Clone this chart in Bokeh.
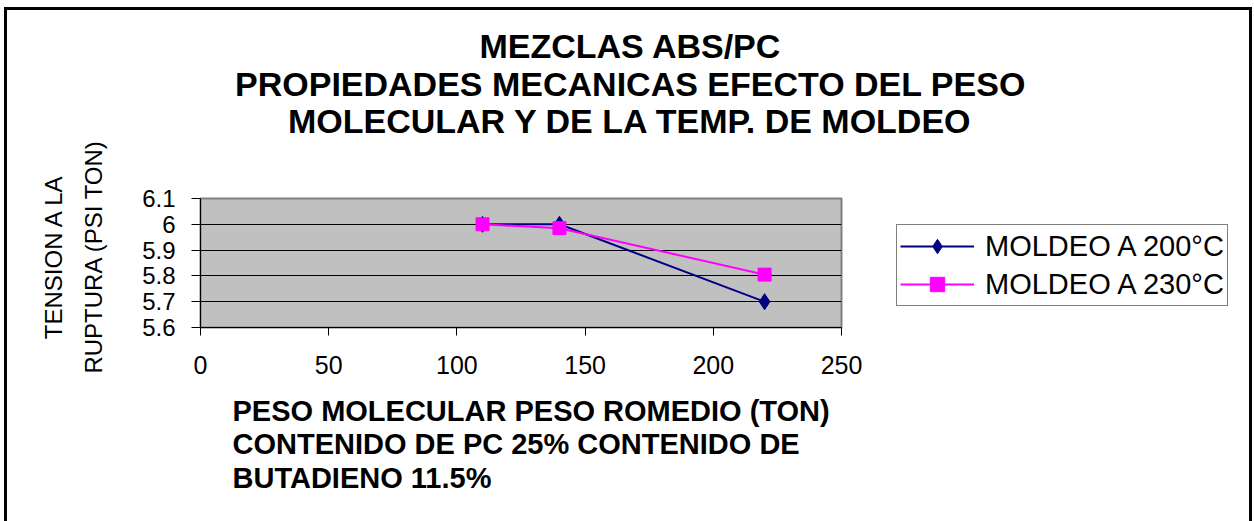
import math

from bokeh.embed import file_html
from bokeh.layouts import column, row
from bokeh.models import FixedTicker, Label, Legend, LegendItem, Range1d
from bokeh.plotting import figure
from bokeh.resources import INLINE

# ---- data -----------------------------------------------------------------
peso_molecular = [110, 140, 220]
tension_200 = [6.0, 6.0, 5.7]
tension_230 = [6.0, 5.985, 5.805]

x_ticks = [0, 50, 100, 150, 200, 250]
y_ticks = [5.6, 5.7, 5.8, 5.9, 6.0, 6.1]
y_tick_labels = ["5.6", "5.7", "5.8", "5.9", "6", "6.1"]

series = ["MOLDEO A 200°C", "MOLDEO A 230°C"]
titulo = ["MEZCLAS ABS/PC",
          "PROPIEDADES MECANICAS EFECTO DEL PESO",
          "MOLECULAR Y DE LA TEMP. DE MOLDEO"]
titulo_x = ["PESO MOLECULAR PESO ROMEDIO (TON)",
            "CONTENIDO DE PC 25% CONTENIDO DE",
            "BUTADIENO 11.5%"]
titulo_y = ["TENSION A LA", "RUPTURA (PSI TON)"]

FONT = "Liberation Sans"
NAVY = "#000080"
MAGENTA = "#ff00ff"

W, H = 1254, 521
TOP_H = 140          # height of the title strip
MAIN_W = 880         # width of the chart panel; the legend sits to its right
LOW_H = H - TOP_H
FRAME_B = 327        # page y of the bottom of the plot area


def blank_panel(width, height):
    """A figure without axes, used for free text and the legend."""
    f = figure(width=width, height=height, x_range=Range1d(0, 1),
               y_range=Range1d(0, 1), x_axis_type=None, y_axis_type=None,
               output_backend="svg", toolbar_location=None,
               min_border=0, min_border_left=0, min_border_right=0,
               min_border_top=0, min_border_bottom=0)
    f.background_fill_alpha = 0
    f.border_fill_alpha = 0
    f.outline_line_color = None
    return f


# ---- title strip ----------------------------------------------------------
top = blank_panel(W, TOP_H)
for text, cy in zip(titulo, [45, 83, 120]):
    top.add_layout(Label(
        x=630, y=TOP_H - cy, x_units="screen", y_units="screen",
        text=text, text_font=FONT, text_font_size="34px",
        text_font_style="bold", text_color="black",
        text_align="center", text_baseline="middle",
    ))

# ---- chart ----------------------------------------------------------------
p = figure(width=MAIN_W, height=LOW_H,
           x_range=Range1d(0, 250), y_range=Range1d(5.6, 6.1),
           output_backend="svg", toolbar_location=None,
           min_border_left=200, min_border_right=MAIN_W - 841,
           min_border_top=198 - TOP_H, min_border_bottom=H - FRAME_B)

p.background_fill_color = "#c0c0c0"
p.border_fill_alpha = 0
p.outline_line_color = "#808080"
p.outline_line_width = 2

for ax in (p.xaxis[0], p.yaxis[0]):
    ax.axis_line_color = "black"
    ax.axis_line_width = 1
    ax.major_tick_line_color = "black"
    ax.major_tick_in = 0
    ax.minor_tick_line_color = None
    ax.major_label_text_font = FONT
    ax.major_label_text_color = "black"

p.xaxis.ticker = FixedTicker(ticks=x_ticks)
p.xaxis.major_tick_out = 8
p.xaxis.major_label_standoff = 20
p.xaxis.major_label_text_font_size = "25px"

p.yaxis.ticker = FixedTicker(ticks=y_ticks)
p.yaxis.major_label_overrides = dict(zip(y_ticks, y_tick_labels))
p.yaxis.major_tick_out = 9
p.yaxis.major_label_standoff = 16
p.yaxis.major_label_text_font_size = "24px"

# horizontal grid lines only
p.xgrid.visible = False
p.ygrid.grid_line_color = "black"
p.ygrid.grid_line_width = 1
p.ygrid.grid_line_alpha = 1

line_200 = dict(line_color=NAVY, line_width=2)
mark_200 = dict(marker="diamond", size=16, fill_color=NAVY, line_color=NAVY)
line_230 = dict(line_color=MAGENTA, line_width=2)
mark_230 = dict(marker="square", size=13, fill_color=MAGENTA,
                line_color=MAGENTA)

p.line(peso_molecular, tension_200, **line_200)
p.scatter(peso_molecular, tension_200, **mark_200)
p.line(peso_molecular, tension_230, **line_230)
p.scatter(peso_molecular, tension_230, **mark_230)

# axis titles, placed in the side panels next to the axes
p.add_layout(Label(
    x=32, y=31, x_units="screen", y_units="screen",
    text="\n".join(titulo_x), text_font=FONT, text_font_size="29px",
    text_font_style="bold", text_color="black", text_line_height=1.045,
    text_align="left", text_baseline="middle",
), "below")

p.add_layout(Label(
    x=2, y=71, x_units="screen", y_units="screen",
    text="\n".join(titulo_y), text_font=FONT, text_font_size="24px",
    text_color="black", text_line_height=1.5,
    text_align="center", text_baseline="middle", angle=math.pi / 2,
), "left")

# ---- legend panel ---------------------------------------------------------
# Legend keys: the same series, styled as in the chart; their points fall
# outside this panel's 0..1 ranges, so only the legend swatches show.
# The row lines this panel's frame up with the chart's plot area, so the
# legend offset is measured from the plot area's bottom edge.
leg = blank_panel(W - MAIN_W, LOW_H)
k1 = [leg.line(peso_molecular, tension_200, **line_200),
      leg.scatter(peso_molecular, tension_200, **mark_200)]
k2 = [leg.line(peso_molecular, tension_230, **line_230),
      leg.scatter(peso_molecular, tension_230, **mark_230)]
leg.add_layout(Legend(
    items=[LegendItem(label=series[0], renderers=k1),
           LegendItem(label=series[1], renderers=k2)],
    location=(896 - MAIN_W, FRAME_B - 306),
    border_line_color="black", border_line_width=1,
    background_fill_color="white", background_fill_alpha=1,
    label_text_font=FONT, label_text_font_size="29px",
    label_text_color="black",
    glyph_width=74, glyph_height=36, padding=3, spacing=2,
    label_standoff=11, margin=0,
))

page = column(top, row(p, leg, spacing=0), spacing=0)
# outer chart border (left, top and right edges)
page.styles = {
    "background": (
        "linear-gradient(#000,#000) 4px 7px / 3px 600px no-repeat,"
        "linear-gradient(#000,#000) 4px 7px / 1248px 3px no-repeat,"
        "linear-gradient(#000,#000) 1249px 7px / 3px 600px no-repeat,"
        "#fff"
    ),
}

open("out.html", "w").write(file_html(page, INLINE))
